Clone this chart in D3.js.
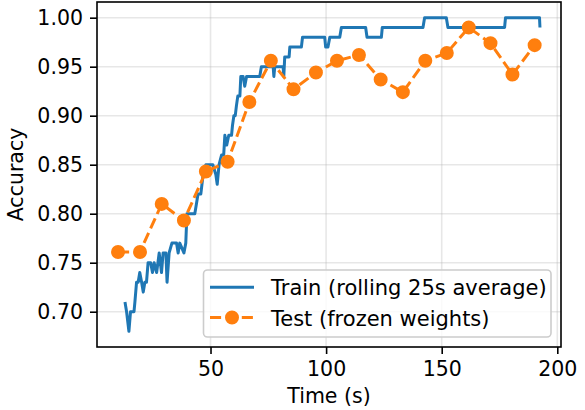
<!DOCTYPE html>
<html>
<head>
<meta charset="utf-8">
<script src="https://cdn.jsdelivr.net/npm/d3@7"></script>
<style>
body { margin: 0; background: #fff; }
text { font-family: "DejaVu Sans", sans-serif; }
</style>
</head>
<body>
<div id="chart"></div>
<script>
// train accuracy, rolling 25s average
var trainTime = [13.0, 13.7, 14.7, 15.4, 16.9, 17.3, 18.0, 18.7, 19.4, 20.2, 20.9, 21.6, 22.3, 23.0, 24.1, 24.9, 25.6, 26.7, 27.8, 28.8,
  29.5, 30.7, 31.2, 32.1, 33.3, 35.3, 36.0, 36.7, 38.5, 39.3, 39.8, 43.2, 43.9, 44.6, 45.8, 46.8, 48.0, 51.0, 52.3, 52.9,
  53.7, 54.8, 55.7, 56.2, 57.0, 57.9, 59.1, 59.5, 60.1, 60.7, 61.2, 61.8, 62.7, 63.1, 64.1, 64.8, 65.6, 71.3, 72.0, 77.1,
  77.4, 77.8, 81.4, 81.7, 82.1, 84.0, 84.3, 89.3, 89.8, 99.4, 99.8, 100.8, 101.6, 105.9, 106.6, 117.1, 117.7, 123.9, 124.3, 141.9,
  142.6, 152.0, 152.7, 177.2, 177.6, 192.3, 192.5];
var trainAcc = [0.71, 0.70, 0.68, 0.70, 0.70, 0.71, 0.73, 0.73, 0.74, 0.73, 0.72, 0.73, 0.73, 0.75, 0.75, 0.74, 0.75, 0.74, 0.76, 0.74,
  0.76, 0.76, 0.73, 0.76, 0.77, 0.77, 0.76, 0.77, 0.76, 0.77, 0.80, 0.80, 0.81, 0.82, 0.82, 0.84, 0.85, 0.85, 0.84, 0.83,
  0.85, 0.86, 0.86, 0.88, 0.87, 0.88, 0.88, 0.89, 0.90, 0.90, 0.91, 0.92, 0.92, 0.94, 0.94, 0.93, 0.94, 0.94, 0.95, 0.95,
  0.94, 0.95, 0.95, 0.94, 0.96, 0.96, 0.97, 0.97, 0.98, 0.98, 0.97, 0.97, 0.98, 0.98, 0.99, 0.99, 0.98, 0.98, 0.99, 0.99,
  1.00, 1.00, 0.99, 0.99, 1.00, 1.00, 0.99];

// test accuracy, frozen weights
var testTime = [10.0, 19.5, 28.9, 38.5, 48.0, 57.4, 66.8, 76.1, 85.9, 95.6, 104.7, 114.2, 123.6, 133.2, 142.9, 152.2, 161.7, 171.1, 180.6, 190.2];
var testAcc = [0.761, 0.761, 0.810, 0.793, 0.843, 0.853, 0.914, 0.956, 0.927, 0.944, 0.956, 0.962, 0.937, 0.924, 0.956, 0.964, 0.990, 0.974, 0.942, 0.972];

var xTicks = [50, 100, 150, 200];
var yTicks = [0.70, 0.75, 0.80, 0.85, 0.90, 0.95, 1.00];
var seriesNames = ["Train (rolling 25s average)", "Test (frozen weights)"];

var width = 585, height = 410;
var blue = "#1f77b4", orange = "#ff7f0e";
var fs = "20.5px";

var x = d3.scaleLinear().domain([0.9, 201.6]).range([97, 561]);
var y = d3.scaleLinear().domain([0.664, 1.016]).range([347, 2]);

var svg = d3.select("#chart").append("svg")
    .attr("width", width)
    .attr("height", height);

// grid
svg.append("g").selectAll("line").data(xTicks).enter().append("line")
    .attr("x1", d => x(d)).attr("x2", d => x(d))
    .attr("y1", y.range()[0]).attr("y2", y.range()[1])
    .attr("stroke", "#b0b0b0").attr("stroke-opacity", 0.3).attr("stroke-width", 1.6);
svg.append("g").selectAll("line").data(yTicks).enter().append("line")
    .attr("x1", x.range()[0]).attr("x2", x.range()[1])
    .attr("y1", d => y(d)).attr("y2", d => y(d))
    .attr("stroke", "#b0b0b0").attr("stroke-opacity", 0.3).attr("stroke-width", 1.6);

svg.append("clipPath").attr("id", "plotclip").append("rect")
    .attr("x", 97).attr("y", 2).attr("width", 464).attr("height", 345);

var plot = svg.append("g").attr("clip-path", "url(#plotclip)");

var line = d3.line().x(d => x(d[0])).y(d => y(d[1]));

plot.append("path")
    .datum(trainTime.map((t, i) => [t, trainAcc[i]]))
    .attr("d", line)
    .attr("fill", "none")
    .attr("stroke", blue)
    .attr("stroke-width", 3)
    .attr("stroke-linejoin", "round");

var testPts = testTime.map((t, i) => [t, testAcc[i]]);
plot.append("path")
    .datum(testPts)
    .attr("d", line)
    .attr("fill", "none")
    .attr("stroke", orange)
    .attr("stroke-width", 3)
    .attr("stroke-dasharray", "11.1,4.8");
plot.selectAll("circle.test").data(testPts).enter().append("circle")
    .attr("class", "test")
    .attr("cx", d => x(d[0])).attr("cy", d => y(d[1]))
    .attr("r", 6)
    .attr("fill", orange).attr("stroke", orange).attr("stroke-width", 2);

// axes
var xAxis = svg.append("g").attr("transform", "translate(0,347)")
    .call(d3.axisBottom(x).tickValues(xTicks).tickSize(7).tickPadding(7).tickSizeOuter(0));
var yAxis = svg.append("g").attr("transform", "translate(97,0)")
    .call(d3.axisLeft(y).tickValues(yTicks).tickFormat(d3.format(".2f")).tickSize(7).tickPadding(7).tickSizeOuter(0));
[xAxis, yAxis].forEach(function(a) {
    a.select(".domain").remove();
    a.selectAll(".tick line").attr("stroke", "#000").attr("stroke-width", 1.6);
    a.selectAll(".tick text").attr("fill", "#000")
        .style("font-size", fs).style("font-family", "DejaVu Sans");
});

// frame
svg.append("rect")
    .attr("x", 97).attr("y", 2).attr("width", 464).attr("height", 345)
    .attr("fill", "none").attr("stroke", "#000").attr("stroke-width", 1.6);

svg.append("text")
    .attr("x", 329).attr("y", 403)
    .attr("text-anchor", "middle")
    .style("font-size", fs)
    .text("Time (s)");
svg.append("text")
    .attr("transform", "translate(23,174.5) rotate(-90)")
    .attr("text-anchor", "middle")
    .style("font-size", fs)
    .text("Accuracy");

// legend
var leg = svg.append("g");
leg.append("rect")
    .attr("x", 203.5).attr("y", 270).attr("width", 347.5).attr("height", 67)
    .attr("rx", 4).attr("ry", 4)
    .attr("fill", "#fff").attr("fill-opacity", 0.8)
    .attr("stroke", "#cccccc").attr("stroke-width", 1.6);
leg.append("line")
    .attr("x1", 210).attr("x2", 254).attr("y1", 287.3).attr("y2", 287.3)
    .attr("stroke", blue).attr("stroke-width", 3);
leg.append("line")
    .attr("x1", 210).attr("x2", 254).attr("y1", 317.5).attr("y2", 317.5)
    .attr("stroke", orange).attr("stroke-width", 3).attr("stroke-dasharray", "11.1,4.8");
leg.append("circle")
    .attr("cx", 232).attr("cy", 317.5).attr("r", 6)
    .attr("fill", orange).attr("stroke", orange).attr("stroke-width", 2);
leg.selectAll("text.lab").data(seriesNames).enter().append("text")
    .attr("class", "lab")
    .attr("x", 271)
    .attr("y", (d, i) => 295 + i * 30.5)
    .style("font-size", "21px")
    .text(d => d);
</script>
</body>
</html>
